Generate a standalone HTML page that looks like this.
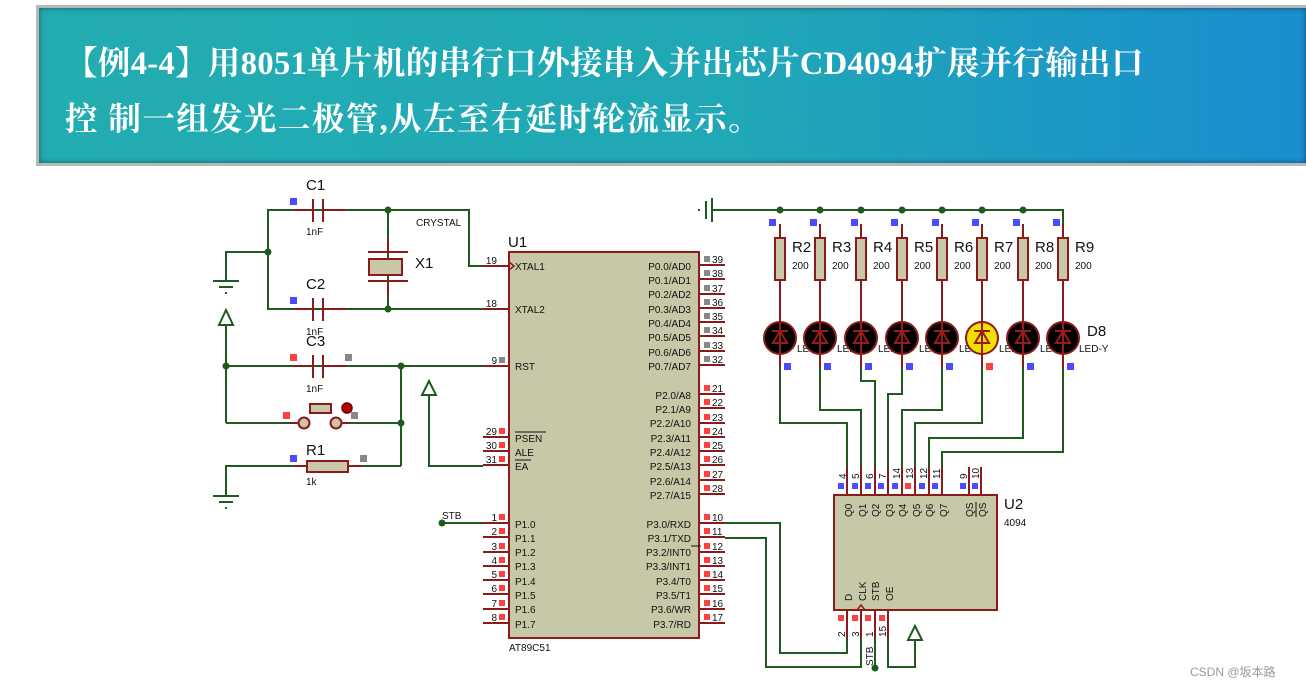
<!DOCTYPE html>
<html><head><meta charset="utf-8"><style>
body{margin:0;width:1306px;height:688px;background:#fff;overflow:hidden;position:relative;font-family:"Liberation Sans",sans-serif}
#hdr{position:absolute;left:36px;top:5px;width:1270px;height:161px;box-sizing:border-box;border:3px solid #b8b8b8;border-right:none;background:linear-gradient(90deg,#22adb0 0%,#20a8b6 55%,#1a8ecf 100%);box-shadow:inset 0 0 6px rgba(0,0,0,.45)}
#hdr div{position:absolute;left:26px;color:#fff;font-family:"Liberation Serif","Noto Serif CJK SC",serif;font-weight:bold;font-size:32.5px;white-space:nowrap;letter-spacing:0.35px}
svg{position:absolute;left:0;top:0}
svg text{font-family:"Liberation Sans",sans-serif}
</style></head><body>
<div id="hdr"><div style="top:30px">【例4-4】用8051单片机的串行口外接串入并出芯片CD4094扩展并行输出口</div><div style="top:86px;letter-spacing:1.4px">控 制一组发光二极管,从左至右延时轮流显示。</div></div>
<svg width="1306" height="688" viewBox="0 0 1306 688">
<g fill="none" stroke="#1f5a1f" stroke-width="2">
<polyline points="483,266 469,266 469,210 268,210 268,309 483,309"/>
<line x1="388" y1="210" x2="388" y2="309"/>
<polyline points="268,252 226,252 226,280"/>
<line x1="226" y1="325" x2="226" y2="423"/>
<line x1="226" y1="366" x2="483" y2="366"/>
<polyline points="226,423 290,423"/><polyline points="350,423 401,423"/>
<line x1="401" y1="366" x2="401" y2="466"/>
<polyline points="348,466 401,466"/>
<polyline points="307,466 226,466 226,495"/>
<polyline points="429,395 429,466 483,466"/>
<line x1="442" y1="523" x2="483" y2="523"/>
<polyline points="712,210 1063,210 1063,230"/>
<polyline points="780,367 780,423 847,423 847,467"/>
<polyline points="820,367 820,410 861,410 861,467"/>
<polyline points="861,367 861,381 875,381 875,467"/>
<polyline points="902,367 902,394 888,394 888,467"/>
<polyline points="942,367 942,410 902,410 902,467"/>
<polyline points="982,367 982,423 915,423 915,467"/>
<polyline points="1023,367 1023,438 929,438 929,467"/>
<polyline points="1063,367 1063,452 942,452 942,467"/>
<polyline points="725,523 780,523 780,653 847,653 847,638"/>
<polyline points="725,538 766,538 766,667 861,667 861,638"/>
<polyline points="875,638 875,668"/>
<polyline points="888,638 888,667 915,667 915,640"/>
</g>
<g fill="#1f5a1f">
<circle cx="388" cy="210" r="3.5"/><circle cx="388" cy="309" r="3.5"/><circle cx="268" cy="252" r="3.5"/>
<circle cx="226" cy="366" r="3.5"/><circle cx="401" cy="366" r="3.5"/><circle cx="401" cy="423" r="3.5"/>
<circle cx="442" cy="523" r="3.5"/><circle cx="875" cy="668" r="3.5"/>
<circle cx="780" cy="210" r="3.5"/><circle cx="820" cy="210" r="3.5"/><circle cx="861" cy="210" r="3.5"/><circle cx="902" cy="210" r="3.5"/><circle cx="942" cy="210" r="3.5"/><circle cx="982" cy="210" r="3.5"/><circle cx="1023" cy="210" r="3.5"/>
</g>
<g stroke="#1f5a1f" stroke-width="2" fill="none">
<line x1="213" y1="281" x2="239" y2="281"/><line x1="219" y1="287" x2="233" y2="287"/><line x1="225" y1="293" x2="227" y2="293"/>
<line x1="213" y1="496" x2="239" y2="496"/><line x1="219" y1="502" x2="233" y2="502"/><line x1="225" y1="508" x2="227" y2="508"/>
<polygon points="226,310 219,325 233,325"/>
<polygon points="429,381 422,395 436,395"/>
<polygon points="915,626 908,640 922,640"/>
<line x1="706" y1="201" x2="706" y2="219"/><line x1="712" y1="198" x2="712" y2="222"/><line x1="698" y1="210" x2="700" y2="210"/>
</g>
<g stroke="#8b1a1a" stroke-width="2" fill="none">
<line x1="293" y1="210" x2="313" y2="210"/><line x1="323" y1="210" x2="347" y2="210"/>
<line x1="313" y1="199" x2="313" y2="222"/><line x1="323" y1="199" x2="323" y2="222"/>
<line x1="293" y1="309" x2="313" y2="309"/><line x1="323" y1="309" x2="347" y2="309"/>
<line x1="313" y1="298" x2="313" y2="321"/><line x1="323" y1="298" x2="323" y2="321"/>
<line x1="293" y1="366" x2="313" y2="366"/><line x1="323" y1="366" x2="347" y2="366"/>
<line x1="313" y1="355" x2="313" y2="378"/><line x1="323" y1="355" x2="323" y2="378"/>
<line x1="388" y1="237" x2="388" y2="252"/><line x1="368" y1="252" x2="408" y2="252"/>
<line x1="368" y1="281" x2="408" y2="281"/><line x1="388" y1="281" x2="388" y2="295"/>
<line x1="290" y1="423" x2="298" y2="423"/><line x1="342" y1="423" x2="350" y2="423"/>
<line x1="293" y1="466" x2="307" y2="466"/><line x1="348" y1="466" x2="362" y2="466"/>
<line x1="310" y1="413" x2="330" y2="413"/>
</g>
<rect x="369" y="259" width="33" height="16" fill="#c8c8a8" stroke="#8b1a1a" stroke-width="2"/>
<rect x="310" y="404" width="21" height="9" fill="#c8c8a8" stroke="#8b1a1a" stroke-width="2"/>
<circle cx="304" cy="423" r="5.5" fill="#c8c8a8" stroke="#8b1a1a" stroke-width="2"/>
<circle cx="336" cy="423" r="5.5" fill="#c8c8a8" stroke="#8b1a1a" stroke-width="2"/>
<circle cx="347" cy="408" r="5" fill="#b00" stroke="#600" stroke-width="1.5"/>
<rect x="307" y="461" width="41" height="11" fill="#c8c8a8" stroke="#8b1a1a" stroke-width="2"/>
<g font-size="15" fill="#111"><text x="306" y="190">C1</text><text x="306" y="289">C2</text><text x="306" y="346">C3</text><text x="415" y="268">X1</text><text x="306" y="455">R1</text><text x="508" y="247">U1</text><text x="1004" y="509">U2</text></g>
<g font-size="10" fill="#111"><text x="306" y="235">1nF</text><text x="306" y="335">1nF</text><text x="306" y="392">1nF</text><text x="306" y="485">1k</text><text x="416" y="226">CRYSTAL</text><text x="509" y="651">AT89C51</text><text x="1004" y="526">4094</text><text x="442" y="519">STB</text></g>
<g fill="#4a4aff"><rect x="290" y="198" width="7" height="7"/><rect x="290" y="297" width="7" height="7"/><rect x="290" y="455" width="7" height="7"/></g>
<g fill="#ff4040"><rect x="290" y="354" width="7" height="7"/><rect x="283" y="412" width="7" height="7"/></g>
<g fill="#888"><rect x="345" y="354" width="7" height="7"/><rect x="351" y="412" width="7" height="7"/><rect x="360" y="455" width="7" height="7"/></g>
<rect x="509" y="252" width="190" height="386" fill="#c8c8a8" stroke="#8b1a1a" stroke-width="2"/>
<polygon points="509,262 514,266 509,270" fill="none" stroke="#8b1a1a" stroke-width="1.5"/>
<g stroke="#8b1a1a" stroke-width="2">
<line x1="483" y1="266" x2="509" y2="266"/><line x1="483" y1="309" x2="509" y2="309"/><line x1="483" y1="366" x2="509" y2="366"/>
<line x1="483" y1="437" x2="509" y2="437"/><line x1="483" y1="451" x2="509" y2="451"/><line x1="483" y1="465" x2="509" y2="465"/>
<line x1="483" y1="523" x2="509" y2="523"/><line x1="483" y1="537" x2="509" y2="537"/><line x1="483" y1="552" x2="509" y2="552"/><line x1="483" y1="566" x2="509" y2="566"/><line x1="483" y1="580" x2="509" y2="580"/><line x1="483" y1="594" x2="509" y2="594"/><line x1="483" y1="609" x2="509" y2="609"/><line x1="483" y1="623" x2="509" y2="623"/>
<line x1="699" y1="265" x2="725" y2="265"/><line x1="699" y1="279" x2="725" y2="279"/><line x1="699" y1="294" x2="725" y2="294"/><line x1="699" y1="308" x2="725" y2="308"/><line x1="699" y1="322" x2="725" y2="322"/><line x1="699" y1="336" x2="725" y2="336"/><line x1="699" y1="351" x2="725" y2="351"/><line x1="699" y1="365" x2="725" y2="365"/>
<line x1="699" y1="394" x2="725" y2="394"/><line x1="699" y1="408" x2="725" y2="408"/><line x1="699" y1="423" x2="725" y2="423"/><line x1="699" y1="437" x2="725" y2="437"/><line x1="699" y1="451" x2="725" y2="451"/><line x1="699" y1="465" x2="725" y2="465"/><line x1="699" y1="480" x2="725" y2="480"/><line x1="699" y1="494" x2="725" y2="494"/>
<line x1="699" y1="523" x2="725" y2="523"/><line x1="699" y1="537" x2="725" y2="537"/><line x1="699" y1="552" x2="725" y2="552"/><line x1="699" y1="566" x2="725" y2="566"/><line x1="699" y1="580" x2="725" y2="580"/><line x1="699" y1="594" x2="725" y2="594"/><line x1="699" y1="609" x2="725" y2="609"/><line x1="699" y1="623" x2="725" y2="623"/>
</g>
<g font-size="10" fill="#111">
<text x="515" y="270">XTAL1</text><text x="515" y="313">XTAL2</text><text x="515" y="370">RST</text>
<text x="515" y="442">PSEN</text><text x="515" y="456">ALE</text><text x="515" y="470">EA</text>
<text x="515" y="528">P1.0</text><text x="515" y="542">P1.1</text><text x="515" y="556">P1.2</text><text x="515" y="570">P1.3</text><text x="515" y="585">P1.4</text><text x="515" y="599">P1.5</text><text x="515" y="613">P1.6</text><text x="515" y="628">P1.7</text>
</g>
<g stroke="#111" stroke-width="1"><line x1="515" y1="432" x2="546" y2="432"/><line x1="515" y1="460" x2="531" y2="460"/><line x1="701" y1="546" x2="691" y2="546"/></g>
<g font-size="10" fill="#111" text-anchor="end">
<text x="691" y="270">P0.0/AD0</text><text x="691" y="284">P0.1/AD1</text><text x="691" y="298">P0.2/AD2</text><text x="691" y="313">P0.3/AD3</text><text x="691" y="327">P0.4/AD4</text><text x="691" y="341">P0.5/AD5</text><text x="691" y="356">P0.6/AD6</text><text x="691" y="370">P0.7/AD7</text>
<text x="691" y="399">P2.0/A8</text><text x="691" y="413">P2.1/A9</text><text x="691" y="427">P2.2/A10</text><text x="691" y="442">P2.3/A11</text><text x="691" y="456">P2.4/A12</text><text x="691" y="470">P2.5/A13</text><text x="691" y="485">P2.6/A14</text><text x="691" y="499">P2.7/A15</text>
<text x="691" y="528">P3.0/RXD</text><text x="691" y="542">P3.1/TXD</text><text x="691" y="556">P3.2/INT0</text><text x="691" y="570">P3.3/INT1</text><text x="691" y="585">P3.4/T0</text><text x="691" y="599">P3.5/T1</text><text x="691" y="613">P3.6/WR</text><text x="691" y="628">P3.7/RD</text>
<text x="497" y="264">19</text><text x="497" y="307">18</text><text x="497" y="364">9</text><text x="497" y="435">29</text><text x="497" y="449">30</text><text x="497" y="463">31</text>
<text x="497" y="521">1</text><text x="497" y="535">2</text><text x="497" y="550">3</text><text x="497" y="564">4</text><text x="497" y="578">5</text><text x="497" y="592">6</text><text x="497" y="607">7</text><text x="497" y="621">8</text>
</g>
<g font-size="10" fill="#111">
<text x="712" y="263">39</text><text x="712" y="277">38</text><text x="712" y="292">37</text><text x="712" y="306">36</text><text x="712" y="320">35</text><text x="712" y="334">34</text><text x="712" y="349">33</text><text x="712" y="363">32</text>
<text x="712" y="392">21</text><text x="712" y="406">22</text><text x="712" y="421">23</text><text x="712" y="435">24</text><text x="712" y="449">25</text><text x="712" y="463">26</text><text x="712" y="478">27</text><text x="712" y="492">28</text>
<text x="712" y="521">10</text><text x="712" y="535">11</text><text x="712" y="550">12</text><text x="712" y="564">13</text><text x="712" y="578">14</text><text x="712" y="592">15</text><text x="712" y="607">16</text><text x="712" y="621">17</text>
</g>
<g fill="#888"><rect x="704" y="256" width="6" height="6"/><rect x="704" y="270" width="6" height="6"/><rect x="704" y="285" width="6" height="6"/><rect x="704" y="299" width="6" height="6"/><rect x="704" y="313" width="6" height="6"/><rect x="704" y="327" width="6" height="6"/><rect x="704" y="342" width="6" height="6"/><rect x="704" y="356" width="6" height="6"/><rect x="499" y="357" width="6" height="6"/></g>
<g fill="#ff4040">
<rect x="704" y="385" width="6" height="6"/><rect x="704" y="399" width="6" height="6"/><rect x="704" y="414" width="6" height="6"/><rect x="704" y="428" width="6" height="6"/><rect x="704" y="442" width="6" height="6"/><rect x="704" y="456" width="6" height="6"/><rect x="704" y="471" width="6" height="6"/><rect x="704" y="485" width="6" height="6"/>
<rect x="704" y="514" width="6" height="6"/><rect x="704" y="528" width="6" height="6"/><rect x="704" y="543" width="6" height="6"/><rect x="704" y="557" width="6" height="6"/><rect x="704" y="571" width="6" height="6"/><rect x="704" y="585" width="6" height="6"/><rect x="704" y="600" width="6" height="6"/><rect x="704" y="614" width="6" height="6"/>
<rect x="499" y="428" width="6" height="6"/><rect x="499" y="442" width="6" height="6"/><rect x="499" y="456" width="6" height="6"/>
<rect x="499" y="514" width="6" height="6"/><rect x="499" y="528" width="6" height="6"/><rect x="499" y="543" width="6" height="6"/><rect x="499" y="557" width="6" height="6"/><rect x="499" y="571" width="6" height="6"/><rect x="499" y="585" width="6" height="6"/><rect x="499" y="600" width="6" height="6"/><rect x="499" y="614" width="6" height="6"/>
</g>
<g font-size="10" fill="#111"><text x="797" y="352">LED</text><text x="837" y="352">LED</text><text x="878" y="352">LED</text><text x="919" y="352">LED</text><text x="959" y="352">LED</text><text x="999" y="352">LED</text><text x="1040" y="352">LED</text></g>
<g stroke="#8b1a1a" stroke-width="2">
<line x1="780" y1="224" x2="780" y2="322"/><line x1="820" y1="224" x2="820" y2="322"/><line x1="861" y1="224" x2="861" y2="322"/><line x1="902" y1="224" x2="902" y2="322"/><line x1="942" y1="224" x2="942" y2="322"/><line x1="982" y1="224" x2="982" y2="322"/><line x1="1023" y1="224" x2="1023" y2="322"/><line x1="1063" y1="224" x2="1063" y2="322"/>
<line x1="780" y1="354" x2="780" y2="367"/><line x1="820" y1="354" x2="820" y2="367"/><line x1="861" y1="354" x2="861" y2="367"/><line x1="902" y1="354" x2="902" y2="367"/><line x1="942" y1="354" x2="942" y2="367"/><line x1="982" y1="354" x2="982" y2="367"/><line x1="1023" y1="354" x2="1023" y2="367"/><line x1="1063" y1="354" x2="1063" y2="367"/>
</g>
<g fill="#c8c8a8" stroke="#8b1a1a" stroke-width="2">
<rect x="775" y="238" width="10" height="42"/><rect x="815" y="238" width="10" height="42"/><rect x="856" y="238" width="10" height="42"/><rect x="897" y="238" width="10" height="42"/><rect x="937" y="238" width="10" height="42"/><rect x="977" y="238" width="10" height="42"/><rect x="1018" y="238" width="10" height="42"/><rect x="1058" y="238" width="10" height="42"/>
</g>
<g stroke="#8b1a1a" stroke-width="2" fill="#000">
<circle cx="780" cy="338" r="16"/><circle cx="820" cy="338" r="16"/><circle cx="861" cy="338" r="16"/><circle cx="902" cy="338" r="16"/><circle cx="942" cy="338" r="16"/><circle cx="982" cy="338" r="16" fill="#f0e000"/><circle cx="1023" cy="338" r="16"/><circle cx="1063" cy="338" r="16"/>
</g>
<g stroke="#9b1a1a" stroke-width="2" fill="none">
<path d="M773,343 L787,343 L780,331 Z M772,331 L788,331 M780,322 L780,354"/>
<path d="M813,343 L827,343 L820,331 Z M812,331 L828,331 M820,322 L820,354"/>
<path d="M854,343 L868,343 L861,331 Z M853,331 L869,331 M861,322 L861,354"/>
<path d="M895,343 L909,343 L902,331 Z M894,331 L910,331 M902,322 L902,354"/>
<path d="M935,343 L949,343 L942,331 Z M934,331 L950,331 M942,322 L942,354"/>
<path d="M975,343 L989,343 L982,331 Z M974,331 L990,331 M982,322 L982,354"/>
<path d="M1016,343 L1030,343 L1023,331 Z M1015,331 L1031,331 M1023,322 L1023,354"/>
<path d="M1056,343 L1070,343 L1063,331 Z M1055,331 L1071,331 M1063,322 L1063,354"/>
</g>
<g font-size="15" fill="#111"><text x="792" y="252">R2</text><text x="832" y="252">R3</text><text x="873" y="252">R4</text><text x="914" y="252">R5</text><text x="954" y="252">R6</text><text x="994" y="252">R7</text><text x="1035" y="252">R8</text><text x="1075" y="252">R9</text><text x="1087" y="336">D8</text></g>
<g font-size="10" fill="#111"><text x="792" y="269">200</text><text x="832" y="269">200</text><text x="873" y="269">200</text><text x="914" y="269">200</text><text x="954" y="269">200</text><text x="994" y="269">200</text><text x="1035" y="269">200</text><text x="1075" y="269">200</text><text x="1079" y="352">LED-Y</text></g>
<g fill="#4a4aff"><rect x="769" y="219" width="7" height="7"/><rect x="810" y="219" width="7" height="7"/><rect x="851" y="219" width="7" height="7"/><rect x="891" y="219" width="7" height="7"/><rect x="932" y="219" width="7" height="7"/><rect x="972" y="219" width="7" height="7"/><rect x="1013" y="219" width="7" height="7"/><rect x="1053" y="219" width="7" height="7"/>
<rect x="784" y="363" width="7" height="7"/><rect x="824" y="363" width="7" height="7"/><rect x="865" y="363" width="7" height="7"/><rect x="906" y="363" width="7" height="7"/><rect x="946" y="363" width="7" height="7"/><rect x="1027" y="363" width="7" height="7"/><rect x="1067" y="363" width="7" height="7"/></g>
<rect x="986" y="363" width="7" height="7" fill="#ff4040"/>
<rect x="834" y="495" width="163" height="115" fill="#c8c8a8" stroke="#8b1a1a" stroke-width="2"/>
<g stroke="#8b1a1a" stroke-width="2">
<line x1="847" y1="467" x2="847" y2="495"/><line x1="861" y1="467" x2="861" y2="495"/><line x1="875" y1="467" x2="875" y2="495"/><line x1="888" y1="467" x2="888" y2="495"/><line x1="902" y1="467" x2="902" y2="495"/><line x1="915" y1="467" x2="915" y2="495"/><line x1="929" y1="467" x2="929" y2="495"/><line x1="942" y1="467" x2="942" y2="495"/><line x1="969" y1="467" x2="969" y2="495"/><line x1="981" y1="467" x2="981" y2="495"/>
<line x1="847" y1="610" x2="847" y2="638"/><line x1="861" y1="610" x2="861" y2="638"/><line x1="875" y1="610" x2="875" y2="638"/><line x1="888" y1="610" x2="888" y2="638"/>
</g>
<polygon points="857,610 861,605 865,610" fill="none" stroke="#8b1a1a" stroke-width="1.5"/>
<g font-size="10" fill="#111">
<text transform="translate(846,479) rotate(-90)">4</text><text transform="translate(859,479) rotate(-90)">5</text><text transform="translate(873,479) rotate(-90)">6</text><text transform="translate(886,479) rotate(-90)">7</text><text transform="translate(900,479) rotate(-90)">14</text><text transform="translate(913,479) rotate(-90)">13</text><text transform="translate(927,479) rotate(-90)">12</text><text transform="translate(940,479) rotate(-90)">11</text><text transform="translate(967,479) rotate(-90)">9</text><text transform="translate(979,479) rotate(-90)">10</text>
<text transform="translate(852,517) rotate(-90)">Q0</text><text transform="translate(866,517) rotate(-90)">Q1</text><text transform="translate(879,517) rotate(-90)">Q2</text><text transform="translate(893,517) rotate(-90)">Q3</text><text transform="translate(906,517) rotate(-90)">Q4</text><text transform="translate(920,517) rotate(-90)">Q5</text><text transform="translate(933,517) rotate(-90)">Q6</text><text transform="translate(947,517) rotate(-90)">Q7</text><text transform="translate(973,517) rotate(-90)">QS</text><text transform="translate(986,517) rotate(-90)">QS</text>
<text transform="translate(852,601) rotate(-90)">D</text><text transform="translate(866,601) rotate(-90)">CLK</text><text transform="translate(879,601) rotate(-90)">STB</text><text transform="translate(893,601) rotate(-90)">OE</text>
<text transform="translate(845,637) rotate(-90)">2</text><text transform="translate(859,637) rotate(-90)">3</text><text transform="translate(873,637) rotate(-90)">1</text><text transform="translate(886,637) rotate(-90)">15</text>
<text transform="translate(873,666) rotate(-90)">STB</text>
</g>
<line x1="976" y1="502" x2="976" y2="517" stroke="#111" stroke-width="1"/>
<g fill="#4a4aff"><rect x="838" y="483" width="6" height="6"/><rect x="852" y="483" width="6" height="6"/><rect x="865" y="483" width="6" height="6"/><rect x="878" y="483" width="6" height="6"/><rect x="892" y="483" width="6" height="6"/><rect x="919" y="483" width="6" height="6"/><rect x="932" y="483" width="6" height="6"/><rect x="960" y="483" width="6" height="6"/><rect x="972" y="483" width="6" height="6"/></g>
<rect x="905" y="483" width="6" height="6" fill="#ff4040"/>
<g fill="#ff4040"><rect x="838" y="615" width="6" height="6"/><rect x="852" y="615" width="6" height="6"/><rect x="865" y="615" width="6" height="6"/><rect x="879" y="615" width="6" height="6"/></g>
<text x="1190" y="676" font-size="12" fill="#999" font-family="Liberation Sans,Noto Sans CJK SC,sans-serif">CSDN @坂本路</text>
</svg>
</body></html>
